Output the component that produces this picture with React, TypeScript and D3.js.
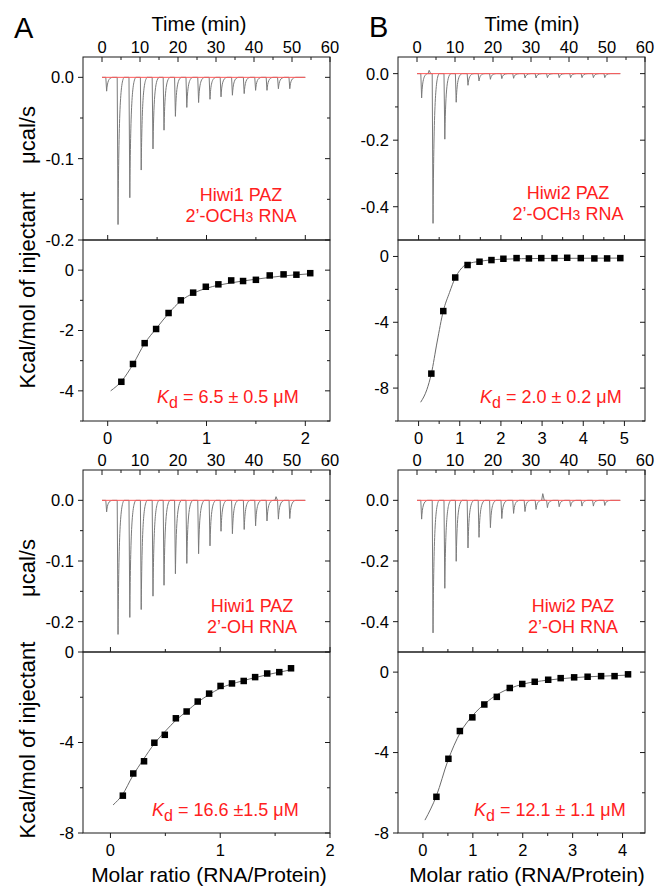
import React from 'react';
import * as d3 from 'd3';

// ---------- data ----------
const injectionTimes = [1.0, 4.0, 7.1, 10.1, 13.2, 16.1, 19.1, 22.1, 25.2, 28.2, 31.1, 34.1, 37.2, 40.2, 43.2, 46.2, 49.2];

const peaksA1 = [-0.017, -0.181, -0.148, -0.114, -0.088, -0.065, -0.048, -0.037, -0.031, -0.027, -0.024, -0.022, -0.020, -0.016, -0.016, -0.014, -0.014];
const peaksB1 = [-0.073, -0.450, -0.197, -0.086, -0.035, -0.022, -0.017, -0.015, -0.014, -0.013, -0.013, -0.012, -0.012, -0.012, -0.012, -0.012, -0.012];
const peaksA2 = [-0.019, -0.221, -0.193, -0.180, -0.158, -0.140, -0.121, -0.104, -0.088, -0.075, -0.051, -0.055, -0.048, -0.042, -0.034, -0.031, -0.030];
const peaksB2 = [-0.062, -0.437, -0.290, -0.201, -0.157, -0.122, -0.090, -0.060, -0.043, -0.037, -0.030, -0.024, -0.021, -0.020, -0.019, -0.019, -0.017];

const bumpTimesA1: number[] = [];
const bumpValuesA1: number[] = [];
const bumpTimesB1 = [3.2];
const bumpValuesB1 = [0.01];
const bumpTimesA2 = [45.8];
const bumpValuesA2 = [0.006];
const bumpTimesB2 = [33.1];
const bumpValuesB2 = [0.022];

const ratioA1 = [0.138, 0.256, 0.374, 0.49, 0.616, 0.74, 0.865, 0.993, 1.12, 1.25, 1.37, 1.5, 1.64, 1.78, 1.91, 2.05];
const heatA1 = [-3.70, -3.11, -2.42, -1.95, -1.42, -1.0, -0.745, -0.55, -0.47, -0.34, -0.36, -0.32, -0.175, -0.14, -0.15, -0.10];
const fitXA1 = [0.03, 0.14, 0.26, 0.37, 0.5, 0.62, 0.74, 0.87, 1.0, 1.25, 1.5, 1.75, 2.05];
const fitYA1 = [-4.0, -3.68, -3.1, -2.45, -1.9, -1.42, -1.02, -0.76, -0.6, -0.42, -0.3, -0.2, -0.12];

const ratioB1 = [0.31, 0.60, 0.89, 1.19, 1.48, 1.77, 2.06, 2.38, 2.68, 2.98, 3.30, 3.61, 3.94, 4.27, 4.58, 4.90];
const heatB1 = [-7.12, -3.32, -1.28, -0.52, -0.32, -0.22, -0.14, -0.10, -0.12, -0.10, -0.10, -0.08, -0.10, -0.12, -0.12, -0.10];
const fitXB1 = [0.05, 0.2, 0.31, 0.45, 0.6, 0.75, 0.89, 1.0, 1.1, 1.2, 1.48, 2.0, 3.0, 4.9];
const fitYB1 = [-8.86, -8.1, -7.12, -5.2, -3.32, -2.2, -1.3, -0.85, -0.58, -0.45, -0.3, -0.17, -0.12, -0.1];

const ratioA2 = [0.113, 0.208, 0.306, 0.40, 0.495, 0.596, 0.694, 0.795, 0.899, 1.003, 1.107, 1.214, 1.318, 1.428, 1.538, 1.645];
const heatA2 = [-6.35, -5.37, -4.83, -4.01, -3.66, -2.93, -2.63, -2.19, -1.84, -1.50, -1.39, -1.28, -1.11, -0.95, -0.89, -0.72];
const fitXA2 = [0.024, 0.11, 0.2, 0.3, 0.4, 0.5, 0.6, 0.7, 0.8, 0.9, 1.0, 1.1, 1.2, 1.3, 1.45, 1.65];
const fitYA2 = [-6.76, -6.3, -5.5, -4.75, -4.05, -3.5, -3.0, -2.6, -2.2, -1.88, -1.6, -1.42, -1.28, -1.15, -0.98, -0.78];

const ratioB2 = [0.27, 0.51, 0.74, 0.99, 1.23, 1.48, 1.74, 1.99, 2.24, 2.51, 2.76, 3.03, 3.30, 3.57, 3.84, 4.11];
const heatB2 = [-6.2, -4.31, -2.93, -2.25, -1.61, -1.23, -0.79, -0.59, -0.48, -0.38, -0.30, -0.26, -0.23, -0.20, -0.20, -0.11];
const fitXB2 = [0.04, 0.27, 0.5, 0.75, 1.0, 1.25, 1.5, 1.75, 2.0, 2.5, 3.0, 3.5, 4.1];
const fitYB2 = [-7.36, -6.15, -4.4, -3.0, -2.15, -1.55, -1.1, -0.8, -0.6, -0.4, -0.28, -0.21, -0.15];

const timeTicks = [0, 10, 20, 30, 40, 50, 60];
const timeMinor = [5, 15, 25, 35, 45, 55];

// ---------- style ----------
const FONT = "'Liberation Sans', Arial, Helvetica, sans-serif";
const RED = '#ff2020';
const TICK_FS = 16.5;
const AXIS = '#1a1a1a';

type RawProps = {
  x0: number; x1: number; y0: number; y1: number;
  yDomain: [number, number]; yMajor: number[]; yMinor: number[]; fmt: (v: number) => string;
  peaks: number[]; bumpT: number[]; bumpV: number[];
  lines: React.ReactNode[]; labelX: number; labelY: number;
};

function RawPanel(p: RawProps) {
  const x = d3.scaleLinear().domain([-5, 60]).range([p.x0, p.x1]);
  const y = d3.scaleLinear().domain(p.yDomain).range([p.y1, p.y0]);
  const path = d3.path();
  path.moveTo(x(0), y(0));
  injectionTimes.forEach((t, i) => {
    const v = p.peaks[i];
    path.lineTo(x(t), y(0));
    path.lineTo(x(t + 0.22), y(v));
    path.bezierCurveTo(x(t + 0.42), y(v * 0.3), x(t + 0.75), y(v * 0.03), x(t + 1.8), y(0));
  });
  path.lineTo(x(53.5), y(0));
  const bumps = p.bumpT.map((t, i) => {
    const b = d3.path();
    b.moveTo(x(t - 0.3), y(0));
    b.lineTo(x(t), y(p.bumpV[i]));
    b.lineTo(x(t + 0.4), y(0));
    return b.toString();
  });
  return (
    <g>
      <path d={path.toString()} fill="none" stroke="#7a7a7a" strokeWidth={1} />
      {bumps.map((d, i) => <path key={i} d={d} fill="none" stroke="#7a7a7a" strokeWidth={1} />)}
      <line x1={x(0)} x2={x(53.5)} y1={y(0)} y2={y(0)} stroke="#ff5a5a" strokeWidth={1} />
      <rect x={p.x0} y={p.y0} width={p.x1 - p.x0} height={p.y1 - p.y0} fill="none" stroke={AXIS} strokeWidth={1} />
      {timeTicks.map(t => (
        <g key={'t' + t}>
          <line x1={x(t)} x2={x(t)} y1={p.y0} y2={p.y0 + 5} stroke={AXIS} />
          <text x={x(t)} y={p.y0 - 4.5} textAnchor="middle" fontSize={TICK_FS} fontFamily={FONT}>{t}</text>
        </g>
      ))}
      {timeMinor.map(t => (
        <line key={'tm' + t} x1={x(t)} x2={x(t)} y1={p.y0} y2={p.y0 + 3} stroke={AXIS} />
      ))}
      {p.yMajor.map(v => (
        <g key={'y' + v}>
          <line x1={p.x0 - 5} x2={p.x0} y1={y(v)} y2={y(v)} stroke={AXIS} />
          <line x1={p.x1 - 5} x2={p.x1} y1={y(v)} y2={y(v)} stroke={AXIS} />
          <text x={p.x0 - 9} y={y(v)} dy="0.36em" textAnchor="end" fontSize={TICK_FS} fontFamily={FONT}>{p.fmt(v)}</text>
        </g>
      ))}
      {p.yMinor.map(v => (
        <g key={'ym' + v}>
          <line x1={p.x0 - 3} x2={p.x0} y1={y(v)} y2={y(v)} stroke={AXIS} />
          <line x1={p.x1 - 3} x2={p.x1} y1={y(v)} y2={y(v)} stroke={AXIS} />
        </g>
      ))}
      {p.lines.map((l, i) => (
        <text key={i} x={p.labelX} y={p.labelY + i * 21} textAnchor="middle" fontSize={18} fontFamily={FONT} fill={RED}>{l}</text>
      ))}
    </g>
  );
}

type IsoProps = {
  x0: number; x1: number; y0: number; y1: number;
  xDomain: [number, number]; xMajor: number[]; xMinor: number[];
  yDomain: [number, number]; yMajor: number[]; yMinor: number[];
  rx: number[]; hy: number[]; fx: number[]; fy: number[];
  kd: string; kdX: number; kdY: number;
};

function IsoPanel(p: IsoProps) {
  const x = d3.scaleLinear().domain(p.xDomain).range([p.x0, p.x1]);
  const y = d3.scaleLinear().domain(p.yDomain).range([p.y1, p.y0]);
  const line = d3.line<number>().x((d, i) => x(p.fx[i])).y(d => y(d)).curve(d3.curveMonotoneX);
  const s = 6.5;
  return (
    <g>
      <path d={line(p.fy) || ''} fill="none" stroke="#6a6a6a" strokeWidth={1} />
      {p.rx.map((r, i) => (
        <rect key={i} x={x(r) - s / 2} y={y(p.hy[i]) - s / 2} width={s} height={s} fill="#000" />
      ))}
      <rect x={p.x0} y={p.y0} width={p.x1 - p.x0} height={p.y1 - p.y0} fill="none" stroke={AXIS} strokeWidth={1} />
      {p.xMajor.map(v => (
        <g key={'x' + v}>
          <line x1={x(v)} x2={x(v)} y1={p.y1} y2={p.y1 + 5} stroke={AXIS} />
          <line x1={x(v)} x2={x(v)} y1={p.y0} y2={p.y0 - 5} stroke={AXIS} />
          <text x={x(v)} y={p.y1 + 23} textAnchor="middle" fontSize={TICK_FS} fontFamily={FONT}>{v}</text>
        </g>
      ))}
      {p.xMinor.map(v => (
        <g key={'xm' + v}>
          <line x1={x(v)} x2={x(v)} y1={p.y1} y2={p.y1 + 3} stroke={AXIS} />
          <line x1={x(v)} x2={x(v)} y1={p.y0} y2={p.y0 - 3} stroke={AXIS} />
        </g>
      ))}
      {p.yMajor.map(v => (
        <g key={'y' + v}>
          <line x1={p.x0 - 5} x2={p.x0} y1={y(v)} y2={y(v)} stroke={AXIS} />
          <line x1={p.x1 - 5} x2={p.x1} y1={y(v)} y2={y(v)} stroke={AXIS} />
          <text x={p.x0 - 9} y={y(v)} dy="0.36em" textAnchor="end" fontSize={TICK_FS} fontFamily={FONT}>{v}</text>
        </g>
      ))}
      {p.yMinor.map(v => (
        <g key={'ym' + v}>
          <line x1={p.x0 - 3} x2={p.x0} y1={y(v)} y2={y(v)} stroke={AXIS} />
          <line x1={p.x1 - 3} x2={p.x1} y1={y(v)} y2={y(v)} stroke={AXIS} />
        </g>
      ))}
      <text x={p.kdX} y={p.kdY} fontSize={18} fontFamily={FONT} fill={RED}>
        <tspan fontStyle="italic">K</tspan>
        <tspan fontSize={16} dy={5}>d</tspan>
        <tspan dy={-5}>{p.kd}</tspan>
      </text>
    </g>
  );
}

const f1 = (v: number) => v.toFixed(1);

const och3 = (
  <>2’-OCH<tspan fontSize={14}>3</tspan> RNA</>
);

export default function App() {
  const A = [83, 330];
  const B = [398, 645];
  return (
    <svg width={659} height={887} style={{ position: 'absolute', left: 0, top: 0, background: '#fff' }} fontFamily={FONT}>
      <rect width={659} height={887} fill="#fff" />
      {/* panel letters and titles */}
      <text x={14} y={38} fontSize={29} fontFamily={FONT}>A</text>
      <text x={369} y={37} fontSize={29} fontFamily={FONT}>B</text>
      <text x={199} y={31} textAnchor="middle" fontSize={20} fontFamily={FONT}>Time (min)</text>
      <text x={532} y={31} textAnchor="middle" fontSize={20} fontFamily={FONT}>Time (min)</text>

      <text transform="translate(35,135) rotate(-90)" textAnchor="middle" fontSize={22} fontFamily={FONT}>μcal/s</text>
      <text transform="translate(35,290) rotate(-90)" textAnchor="middle" fontSize={22} fontFamily={FONT}>Kcal/mol of injectant</text>
      <text transform="translate(35,568) rotate(-90)" textAnchor="middle" fontSize={22} fontFamily={FONT}>μcal/s</text>
      <text transform="translate(35,740) rotate(-90)" textAnchor="middle" fontSize={22} fontFamily={FONT}>Kcal/mol of injectant</text>

      <text x={209} y={882} textAnchor="middle" fontSize={21} fontFamily={FONT}>Molar ratio (RNA/Protein)</text>
      <text x={527} y={882} textAnchor="middle" fontSize={21} fontFamily={FONT}>Molar ratio (RNA/Protein)</text>

      {/* A top */}
      <RawPanel x0={A[0]} x1={A[1]} y0={57} y1={240} yDomain={[-0.2, 0.025]} yMajor={[0, -0.1, -0.2]} yMinor={[-0.05, -0.15]} fmt={f1}
        peaks={peaksA1} bumpT={bumpTimesA1} bumpV={bumpValuesA1}
        lines={['Hiwi1 PAZ', och3]} labelX={241} labelY={201} />
      <IsoPanel x0={A[0]} x1={A[1]} y0={240} y1={421} xDomain={[-0.25, 2.25]} xMajor={[0, 1, 2]} xMinor={[0.5, 1.5]}
        yDomain={[-5, 1]} yMajor={[0, -2, -4]} yMinor={[-1, -3, -5]}
        rx={ratioA1} hy={heatA1} fx={fitXA1} fy={fitYA1} kd=" = 6.5 ± 0.5 μM" kdX={157} kdY={403} />

      {/* B top */}
      <RawPanel x0={B[0]} x1={B[1]} y0={57} y1={240} yDomain={[-0.5, 0.05]} yMajor={[0, -0.2, -0.4]} yMinor={[-0.1, -0.3]} fmt={f1}
        peaks={peaksB1} bumpT={bumpTimesB1} bumpV={bumpValuesB1}
        lines={['Hiwi2 PAZ', och3]} labelX={568} labelY={199} />
      <IsoPanel x0={B[0]} x1={B[1]} y0={240} y1={421} xDomain={[-0.5, 5.5]} xMajor={[0, 1, 2, 3, 4, 5]} xMinor={[0.5, 1.5, 2.5, 3.5, 4.5]}
        yDomain={[-10, 1]} yMajor={[0, -4, -8]} yMinor={[-2, -6, -10]}
        rx={ratioB1} hy={heatB1} fx={fitXB1} fy={fitYB1} kd=" = 2.0 ± 0.2 μM" kdX={480} kdY={403} />

      {/* A bottom */}
      <RawPanel x0={A[0]} x1={A[1]} y0={470} y1={652} yDomain={[-0.25, 0.05]} yMajor={[0, -0.1, -0.2]} yMinor={[-0.05, -0.15]} fmt={f1}
        peaks={peaksA2} bumpT={bumpTimesA2} bumpV={bumpValuesA2}
        lines={['Hiwi1 PAZ', '2’-OH RNA']} labelX={252} labelY={612} />
      <IsoPanel x0={A[0]} x1={A[1]} y0={652} y1={833} xDomain={[-0.25, 2]} xMajor={[0, 1, 2]} xMinor={[0.5, 1.5]}
        yDomain={[-8, 0]} yMajor={[0, -4, -8]} yMinor={[-2, -6]}
        rx={ratioA2} hy={heatA2} fx={fitXA2} fy={fitYA2} kd=" = 16.6 ±1.5 μM" kdX={152} kdY={816} />

      {/* B bottom */}
      <RawPanel x0={B[0]} x1={B[1]} y0={470} y1={652} yDomain={[-0.5, 0.1]} yMajor={[0, -0.2, -0.4]} yMinor={[-0.1, -0.3]} fmt={f1}
        peaks={peaksB2} bumpT={bumpTimesB2} bumpV={bumpValuesB2}
        lines={['Hiwi2 PAZ', '2’-OH RNA']} labelX={573} labelY={612} />
      <IsoPanel x0={B[0]} x1={B[1]} y0={652} y1={833} xDomain={[-0.5, 4.45]} xMajor={[0, 1, 2, 3, 4]} xMinor={[0.5, 1.5, 2.5, 3.5]}
        yDomain={[-8, 1]} yMajor={[0, -4, -8]} yMinor={[-2, -6]}
        rx={ratioB2} hy={heatB2} fx={fitXB2} fy={fitYB2} kd=" = 12.1 ± 1.1 μM" kdX={474} kdY={816} />
    </svg>
  );
}
